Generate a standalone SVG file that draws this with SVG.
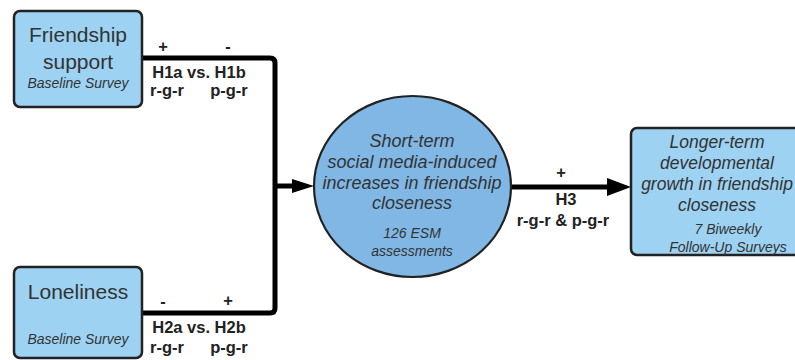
<svg xmlns="http://www.w3.org/2000/svg" width="795" height="360" viewBox="0 0 795 360">
<defs>
<style>
.box{fill:#9dd2f2;stroke:#222;stroke-width:2.5}
.ell{fill:#80b7e5;stroke:#222;stroke-width:2.2}
.t{font-family:"Liberation Sans",Arial,sans-serif;fill:#333;text-anchor:middle}
.big{font-size:21px}
.it{font-style:italic}
.sub{font-size:14px;font-style:italic}
.mid{font-size:18px;font-style:italic}
.mid2{font-size:17.5px;font-style:italic}
.lbl{font-family:"Liberation Sans",Arial,sans-serif;font-weight:bold;font-size:16.5px;fill:#222;text-anchor:middle}
.con{fill:none;stroke:#000;stroke-width:5}
</style>
<marker id="ah1" markerUnits="userSpaceOnUse" markerWidth="22" markerHeight="14" refX="0" refY="7" orient="auto">
<path d="M0,0 L22,7 L0,14 z" fill="#000"/>
</marker>
<marker id="ah2" markerUnits="userSpaceOnUse" markerWidth="24" markerHeight="18" refX="0" refY="9" orient="auto">
<path d="M0,0 L24,9 L0,18 z" fill="#000"/>
</marker>
</defs>
<rect width="795" height="360" fill="#fff"/>
<g id="connectors">
<path class="con" d="M142,58 H270 Q275,58 275,63 V308 Q275,313 270,313 H142"/>
<path class="con" d="M275,186 H292" marker-end="url(#ah1)"/>
<path class="con" d="M511,187 H607" marker-end="url(#ah2)"/>
<text class="lbl" x="163" y="52">+</text>
<text class="lbl" x="228" y="52">-</text>
<text class="lbl" x="199" y="78">H1a vs. H1b</text>
<text class="lbl" x="167" y="96">r-g-r</text>
<text class="lbl" x="229" y="96">p-g-r</text>
<text class="lbl" x="163" y="307">-</text>
<text class="lbl" x="228" y="306">+</text>
<text class="lbl" x="199" y="333">H2a vs. H2b</text>
<text class="lbl" x="167" y="353">r-g-r</text>
<text class="lbl" x="229" y="353">p-g-r</text>
<text class="lbl" x="561" y="178">+</text>
<text class="lbl" x="566" y="205">H3</text>
<text class="lbl" x="563" y="226">r-g-r &amp; p-g-r</text>
</g>
<g id="friendship">
<rect class="box" x="14" y="11" width="128" height="96" rx="6"/>
<text class="t big" x="78" y="42">Friendship</text>
<text class="t big" x="78" y="69">support</text>
<text class="t sub" x="78" y="88">Baseline Survey</text>
</g>
<g id="loneliness">
<rect class="box" x="14" y="267" width="128" height="91" rx="6"/>
<text class="t big" x="78" y="299">Loneliness</text>
<text class="t sub" x="78" y="344">Baseline Survey</text>
</g>
<g id="shortterm">
<ellipse class="ell" cx="412.5" cy="186.5" rx="98.5" ry="90.5"/>
<text class="t mid" x="412" y="147">Short-term</text>
<text class="t mid" x="412" y="168">social media-induced</text>
<text class="t mid" x="412" y="189">increases in friendship</text>
<text class="t mid" x="412" y="209">closeness</text>
<text class="t sub" x="412" y="238">126 ESM</text>
<text class="t sub" x="412" y="256">assessments</text>
</g>
<g id="longterm">
<rect class="box" x="631" y="128" width="180" height="127" rx="6"/>
<text class="t mid2" x="717" y="148">Longer-term</text>
<text class="t mid2" x="717" y="169">developmental</text>
<text class="t mid2" x="717" y="190">growth in friendship</text>
<text class="t mid2" x="717" y="211">closeness</text>
<text class="t sub" x="728" y="234">7 Biweekly</text>
<text class="t sub" x="728" y="252">Follow-Up Surveys</text>
</g>
</svg>
